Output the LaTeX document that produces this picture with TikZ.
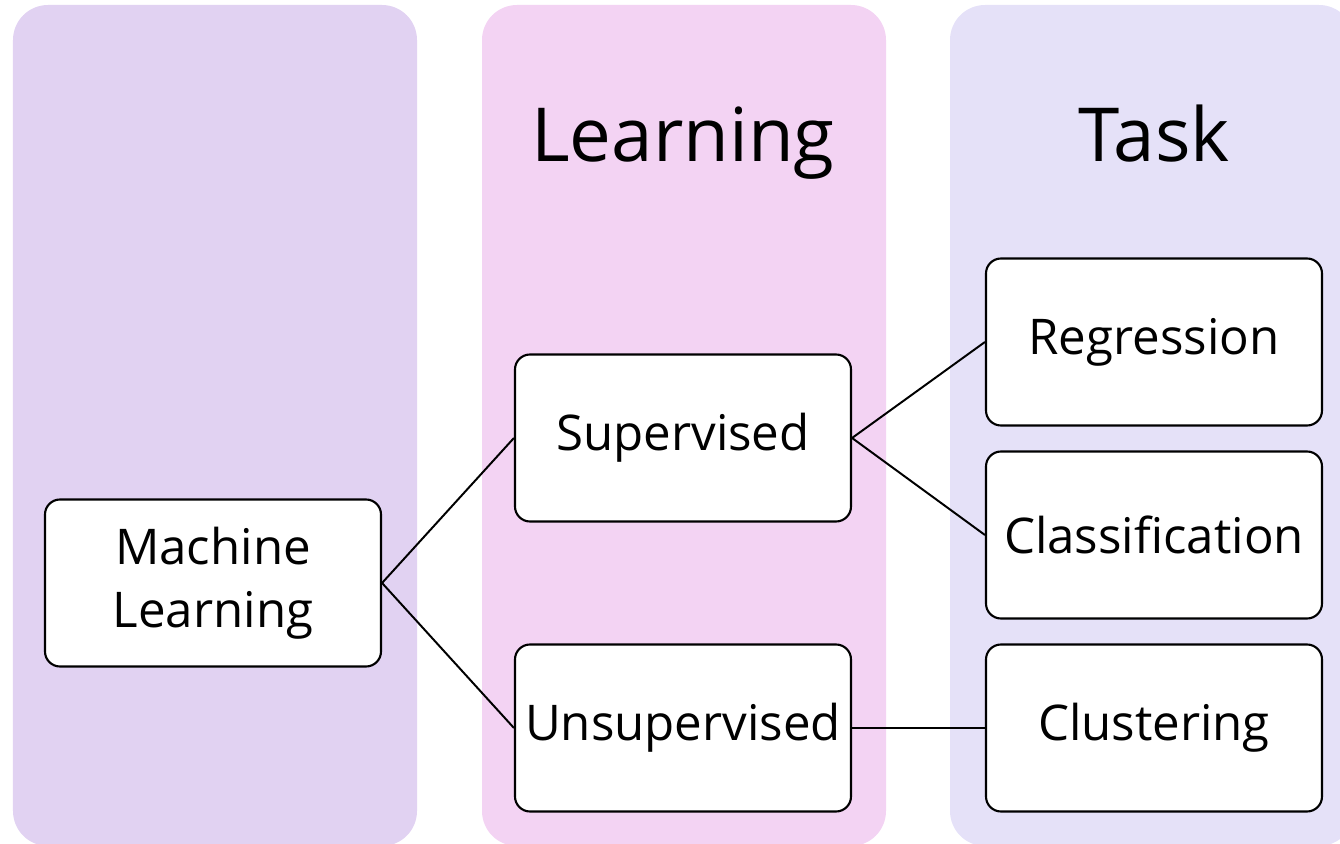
\documentclass[tikz,border=0pt]{standalone}
\usepackage{fontspec}
\setmainfont{Open Sans}
\definecolor{colA}{RGB}{225,210,242}
\definecolor{colB}{RGB}{243,211,243}
\definecolor{colC}{RGB}{229,225,248}

\begin{document}
\begin{tikzpicture}[
  column/.style = {rounded corners = 0.875cm},
  box/.style = {draw, fill = white, line width = 1.5pt, rounded corners = 0.375cm,
                minimum width = 8.4cm, minimum height = 4.175cm, align = center,
                font = \fontsize{35}{44.6}\selectfont},
  head/.style = {anchor = base, font = \fontsize{53}{60}\selectfont},
  link/.style = {line width = 1.4pt}]
\useasboundingbox (0,0) rectangle (33.5,21.1);
% three background columns
\fill[colA, column] (0.325,-0.05) rectangle (10.425,20.975);
\fill[colB, column] (12.05,-0.05) rectangle (22.15,20.975);
\fill[colC, column] (23.75,-0.05) rectangle (33.85,20.975);
\node[head] (learn) at (17.075,17.05) {Learning};
\node[head] (task) at (28.85,17.05) {Task};
\node[box] (ml) at (5.325,6.525) {Machine\\Learning};
\node[box] (sup) at (17.075,10.15) {Supervised};
\node[box] (unsup) at (17.075,2.9) {Unsupervised};
\node[box] (reg) at (28.85,12.55) {Regression};
\node[box] (cls) at (28.85,7.725) {Classification};
\node[box] (clu) at (28.85,2.9) {Clustering};
\draw[link] (ml.east) -- (sup.west);
\draw[link] (ml.east) -- (unsup.west);
\draw[link] (sup.east) -- (reg.west);
\draw[link] (sup.east) -- (cls.west);
\draw[link] (unsup.east) -- (clu.west);
\end{tikzpicture}
\end{document}
